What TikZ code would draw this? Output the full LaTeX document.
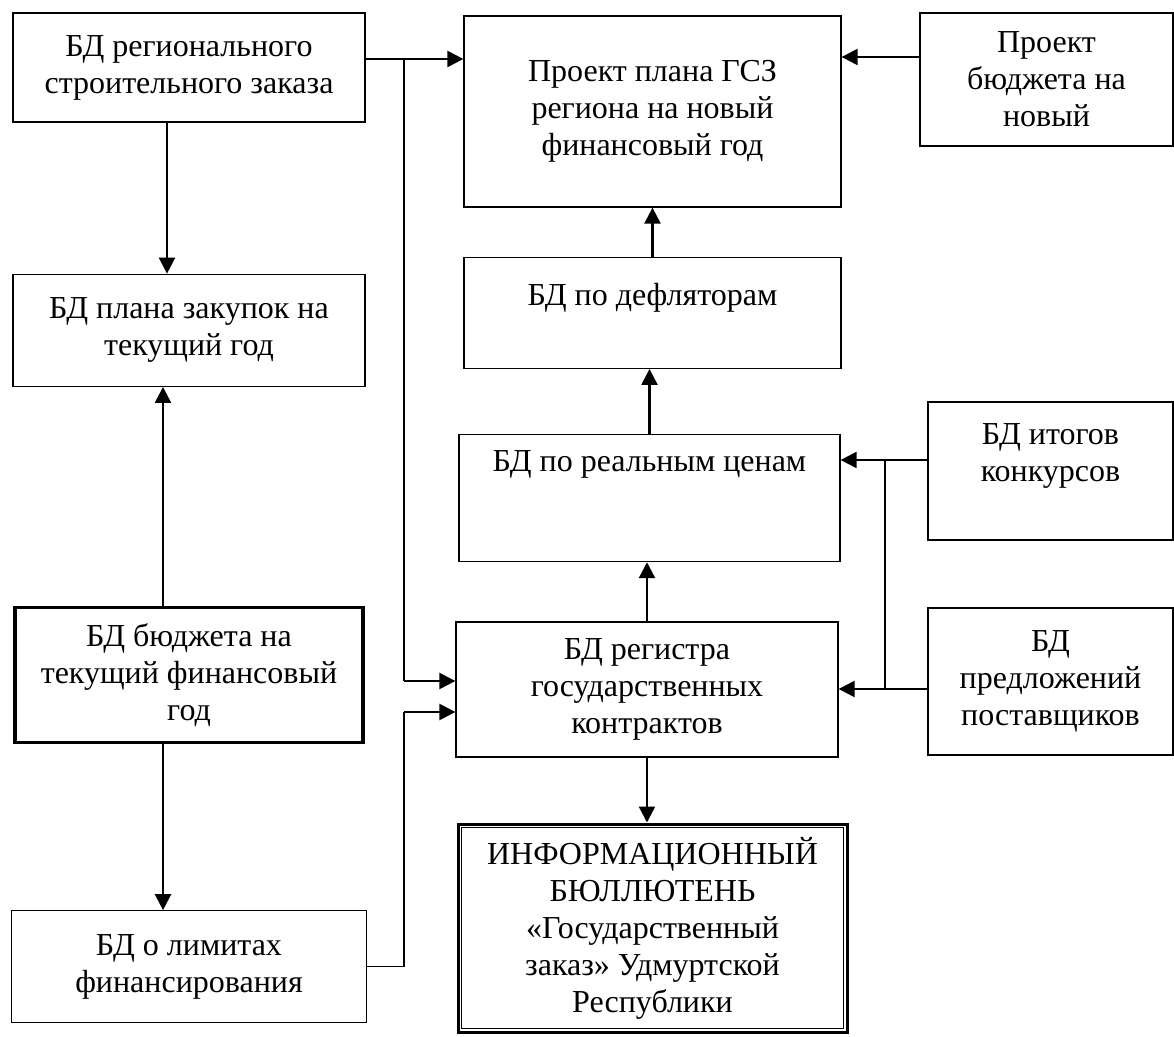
\documentclass[tikz,border=0pt]{standalone}
\usepackage{fontspec}
\setmainfont{Liberation Serif}
\usetikzlibrary{positioning,arrows.meta,calc}
\tikzset{
  x=0.5pt, y=0.5pt,
  dbbox/.style={draw, line width=0.65pt, align=center, inner sep=2pt,
                font=\fontsize{16pt}{18.5pt}\selectfont},
  budgetbox/.style={dbbox, line width=1.6pt},
  bulletin/.style={dbbox, line width=1.5pt},
  flow/.style={-{Triangle[length=8pt,width=8pt]}, line width=1.2pt},
  link/.style={line width=0.65pt},
}
\begin{document}
\begin{tikzpicture}
  \useasboundingbox (0,0) rectangle (1174,-1037);
  % left column
  \node[dbbox, minimum width=176pt, minimum height=54.5pt] (regorder) at (189,-67.5) {БД регионального\\строительного заказа};
  \node[dbbox, minimum width=176pt, minimum height=56pt, below=75.5pt of regorder] (purch) {БД плана закупок на\\текущий год};
  \node[budgetbox, minimum width=174pt, minimum height=67.5pt, below=109.5pt of purch] (budget) {БД бюджета на\\текущий финансовый\\год};
  \node[dbbox, minimum width=177.5pt, minimum height=56pt, below=83pt of budget] (limits) {БД о лимитах\\финансирования};
  % middle column
  \node[dbbox, minimum width=188.5pt, minimum height=95.5pt] (plan) at (652.5,-111.5) {Проект плана ГСЗ\\региона на новый\\финансовый год};
  \node[dbbox, minimum width=188.5pt, minimum height=55.5pt, below=24.5pt of plan] (defl) {БД по дефляторам\\\mbox{}};
  \node[dbbox, minimum width=190.5pt, minimum height=63.5pt, below=32.5pt of defl, xshift=-1.5pt] (prices) {БД по реальным ценам\\\mbox{}\\\mbox{}};
  \node[dbbox, minimum width=191pt, minimum height=67.5pt, below=29.5pt of prices, xshift=-1.25pt] (register) {БД регистра\\государственных\\контрактов};
  \node[bulletin, minimum width=194.5pt, minimum height=104pt] (bulletin) at (652.5,-928) {ИНФОРМАЦИОННЫЙ\\БЮЛЛЮТЕНЬ\\«Государственный\\заказ» Удмуртской\\Республики};
  \draw[link] ([shift={(2.5pt,-2.5pt)}]bulletin.north west) rectangle ([shift={(-2.5pt,2.5pt)}]bulletin.south east);
  % right column
  \node[dbbox, minimum width=126.5pt, minimum height=66.5pt] (newbudget) at (1046.5,-79.5) {Проект\\бюджета на\\новый};
  \node[dbbox, minimum width=122.5pt, minimum height=69pt] (tenders) at (1050.5,-471) {БД итогов\\конкурсов\\\mbox{}};
  \node[dbbox, minimum width=122.5pt, minimum height=73.5pt] (offers) at (1050.5,-681.5) {БД\\предложений\\поставщиков};
  % junctions
  \coordinate (trunktop) at (404,-59);
  \coordinate (trunkbot) at (404,-681);
  \coordinate (limtop) at (404,-712);
  \coordinate (bustop) at (885,-460);
  \coordinate (busbot) at (885,-689);
  % connectors
  \draw[flow] (regorder.east |- trunktop) -- (trunktop -| plan.west);
  \draw[link] (trunktop) -- (trunkbot);
  \draw[flow] (trunkbot) -- (trunkbot -| register.west);
  \draw[link] (limits.east) -| (limtop);
  \draw[flow] (limtop) -- (limtop -| register.west);
  \draw[flow] ([xshift=-11pt]regorder.south) -- ([xshift=-11pt]regorder.south |- purch.north);
  \draw[flow] ([xshift=-13pt]budget.north) -- ([xshift=-13pt]budget.north |- purch.south);
  \draw[flow] ([xshift=-13pt]budget.south) -- ([xshift=-13pt]budget.south |- limits.north);
  \draw[flow] ([yshift=11.25pt]newbudget.west) -- ([yshift=11.25pt]newbudget.west -| plan.east);
  \draw[flow] (defl.north) -- (defl.north |- plan.south);
  \draw[flow] (prices.north) -- (prices.north |- defl.south);
  \draw[flow] (register.north) -- (register.north |- prices.south);
  \draw[flow] (register.south) -- (register.south |- bulletin.north);
  \draw[flow] (tenders.west |- bustop) -- (bustop -| prices.east);
  \draw[flow] (offers.west |- busbot) -- (busbot -| register.east);
  \draw[link] (bustop) -- (busbot);
\end{tikzpicture}
\end{document}
